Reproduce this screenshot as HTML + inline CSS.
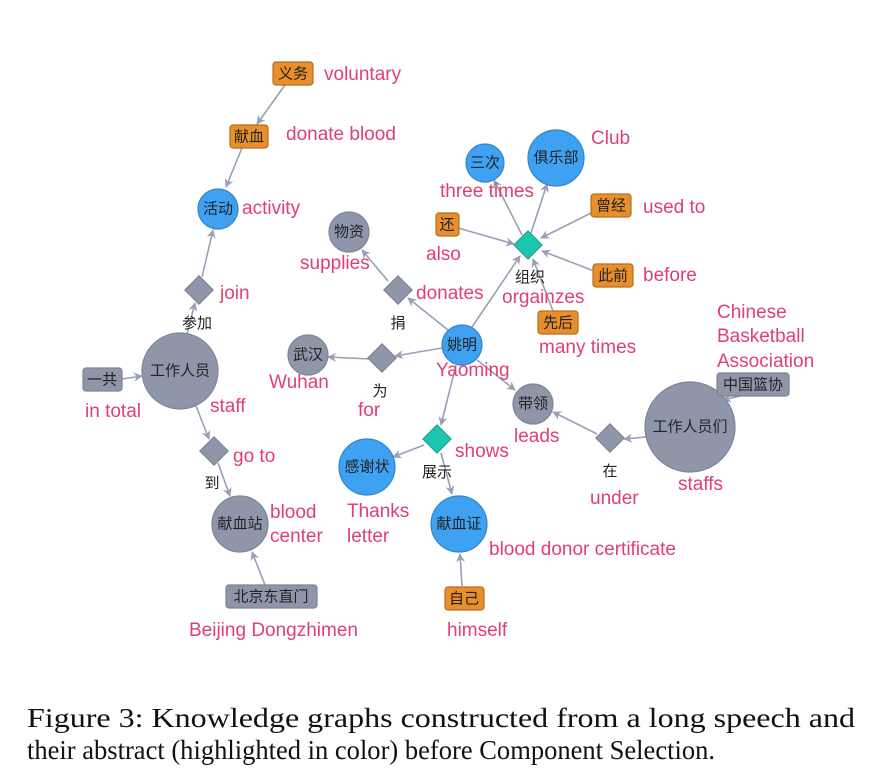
<!DOCTYPE html>
<html><head><meta charset="utf-8"><style>
html,body{margin:0;padding:0;background:#fff;}
svg{display:block;}
.en{font-family:"Liberation Sans",sans-serif;font-size:19px;fill:#e0406f;}
.zh{font-family:"Liberation Sans","Noto Sans CJK SC",sans-serif;font-size:15px;fill:#222;text-anchor:middle;dominant-baseline:central;}
.zl{font-family:"Liberation Sans","Noto Sans CJK SC",sans-serif;font-size:15px;fill:#222;text-anchor:middle;}
.e{stroke:#98a0b6;stroke-width:1.6;fill:none;marker-end:url(#a);}
.g{fill:#9096aa;stroke:#7d8398;stroke-width:1.2;}
.b{fill:#3fa1f2;stroke:#3586c8;stroke-width:1.2;}
.o{fill:#e88f2c;stroke:#b86d1e;stroke-width:1.2;}
.t{fill:#1cc6b0;stroke:#16a08f;stroke-width:1;}
.cap{font-family:"Liberation Serif",serif;font-size:27px;fill:#111;}
</style></head><body>
<svg width="879" height="783" viewBox="0 0 879 783" xmlns="http://www.w3.org/2000/svg">
<defs><marker id="a" viewBox="0 0 10 10" refX="9" refY="5" markerWidth="9" markerHeight="9" orient="auto" markerUnits="userSpaceOnUse"><path d="M0,0 L10,5 L0,10 L3,5 z" fill="#98a0b6"/></marker></defs>
<!-- edges -->
<line class="e" x1="285" y1="85" x2="257" y2="124"/>
<line class="e" x1="242" y1="148" x2="226" y2="187"/>
<line class="e" x1="202" y1="277" x2="213" y2="230"/>
<line class="e" x1="187" y1="334" x2="195" y2="303"/>
<line class="e" x1="122" y1="379" x2="142" y2="376"/>
<line class="e" x1="196" y1="406" x2="209" y2="439"/>
<line class="e" x1="218" y1="463" x2="230" y2="496"/>
<line class="e" x1="265" y1="585" x2="252" y2="552"/>
<line class="e" x1="388" y1="281" x2="362" y2="250"/>
<line class="e" x1="448" y1="330" x2="408" y2="298"/>
<line class="e" x1="370" y1="359" x2="328" y2="357"/>
<line class="e" x1="442" y1="348" x2="395" y2="356"/>
<line class="e" x1="472" y1="327" x2="520" y2="256"/>
<line class="e" x1="522" y1="235" x2="494" y2="180"/>
<line class="e" x1="531" y1="233" x2="547" y2="184"/>
<line class="e" x1="458" y1="228" x2="514" y2="244"/>
<line class="e" x1="593" y1="212" x2="541" y2="238"/>
<line class="e" x1="594" y1="271" x2="542" y2="251"/>
<line class="e" x1="553" y1="311" x2="533" y2="259"/>
<line class="e" x1="477" y1="360" x2="515" y2="390"/>
<line class="e" x1="597" y1="434" x2="553" y2="412"/>
<line class="e" x1="646" y1="437" x2="624" y2="439"/>
<line class="e" x1="740" y1="396" x2="723" y2="400"/>
<line class="e" x1="456" y1="365" x2="441" y2="425"/>
<line class="e" x1="424" y1="445" x2="393" y2="457"/>
<line class="e" x1="441" y1="453" x2="452" y2="494"/>
<line class="e" x1="462" y1="586" x2="460" y2="554"/>
<!-- nodes -->
<rect class="o" x="273" y="62" width="40" height="23" rx="3"/><text class="zh" x="293" y="74">义务</text>
<rect class="o" x="230" y="125" width="38" height="23" rx="3"/><text class="zh" x="249" y="137">献血</text>
<circle class="b" cx="218" cy="209" r="20"/><text class="zh" x="218" y="209">活动</text>
<rect class="g" x="189" y="280" width="20" height="20" transform="rotate(45 199 290)"/>
<circle class="g" cx="180" cy="371" r="38"/><text class="zh" x="180" y="371">工作人员</text>
<rect class="g" x="83" y="368" width="39" height="23" rx="3"/><text class="zh" x="102" y="380">一共</text>
<rect class="g" x="204" y="441" width="20" height="20" transform="rotate(45 214 451)"/>
<circle class="g" cx="240" cy="524" r="28"/><text class="zh" x="240" y="524">献血站</text>
<rect class="g" x="226" y="585" width="91" height="23" rx="3"/><text class="zh" x="271" y="597">北京东直门</text>
<circle class="g" cx="349" cy="232" r="20"/><text class="zh" x="349" y="232">物资</text>
<rect class="g" x="388" y="280" width="20" height="20" transform="rotate(45 398 290)"/>
<circle class="g" cx="308" cy="355" r="20"/><text class="zh" x="308" y="355">武汉</text>
<rect class="g" x="372" y="348" width="20" height="20" transform="rotate(45 382 358)"/>
<circle class="b" cx="462" cy="345" r="20"/><text class="zh" x="462" y="345">姚明</text>
<rect class="t" x="518" y="235" width="20" height="20" transform="rotate(45 528 245)"/>
<circle class="b" cx="485" cy="163" r="19"/><text class="zh" x="485" y="163">三次</text>
<circle class="b" cx="556" cy="158" r="28"/><text class="zh" x="556" y="158">俱乐部</text>
<rect class="o" x="436" y="213" width="23" height="23" rx="3"/><text class="zh" x="447" y="225">还</text>
<rect class="o" x="591" y="194" width="40" height="23" rx="3"/><text class="zh" x="611" y="206">曾经</text>
<rect class="o" x="593" y="264" width="40" height="23" rx="3"/><text class="zh" x="613" y="276">此前</text>
<rect class="o" x="538" y="311" width="40" height="23" rx="3"/><text class="zh" x="558" y="323">先后</text>
<circle class="g" cx="533" cy="404" r="20"/><text class="zh" x="533" y="404">带领</text>
<rect class="g" x="600" y="428" width="20" height="20" transform="rotate(45 610 438)"/>
<circle class="g" cx="690" cy="427" r="45"/><text class="zh" x="690" y="427">工作人员们</text>
<rect class="g" x="717" y="373" width="72" height="23" rx="3"/><text class="zh" x="753" y="385">中国篮协</text>
<rect class="t" x="427" y="429" width="20" height="20" transform="rotate(45 437 439)"/>
<circle class="b" cx="367" cy="467" r="28"/><text class="zh" x="367" y="467">感谢状</text>
<circle class="b" cx="459" cy="524" r="28"/><text class="zh" x="459" y="524">献血证</text>
<rect class="o" x="445" y="587" width="39" height="23" rx="3"/><text class="zh" x="464" y="599">自己</text>
<!-- chinese labels -->
<text class="zl" x="197" y="328">参加</text>
<text class="zl" x="212" y="488">到</text>
<text class="zl" x="398" y="328">捐</text>
<text class="zl" x="380" y="396">为</text>
<text class="zl" x="530" y="282">组织</text>
<text class="zl" x="610" y="476">在</text>
<text class="zl" x="437" y="477">展示</text>
<!-- english labels -->
<text class="en" x="324" y="80">voluntary</text>
<text class="en" x="286" y="140">donate blood</text>
<text class="en" x="242" y="214">activity</text>
<text class="en" x="220" y="299">join</text>
<text class="en" x="85" y="417">in total</text>
<text class="en" x="210" y="412">staff</text>
<text class="en" x="233" y="462">go to</text>
<text class="en" x="270" y="518">blood</text>
<text class="en" x="270" y="542">center</text>
<text class="en" x="189" y="636">Beijing Dongzhimen</text>
<text class="en" x="300" y="269">supplies</text>
<text class="en" x="416" y="299">donates</text>
<text class="en" x="269" y="388">Wuhan</text>
<text class="en" x="358" y="416">for</text>
<text class="en" x="436" y="376">Yaoming</text>
<text class="en" x="440" y="197">three times</text>
<text class="en" x="591" y="144">Club</text>
<text class="en" x="426" y="260">also</text>
<text class="en" x="643" y="213">used to</text>
<text class="en" x="643" y="281">before</text>
<text class="en" x="502" y="303">orgainzes</text>
<text class="en" x="539" y="353">many times</text>
<text class="en" x="717" y="318">Chinese</text>
<text class="en" x="717" y="342">Basketball</text>
<text class="en" x="717" y="367">Association</text>
<text class="en" x="514" y="442">leads</text>
<text class="en" x="455" y="457">shows</text>
<text class="en" x="590" y="504">under</text>
<text class="en" x="678" y="490">staffs</text>
<text class="en" x="347" y="517">Thanks</text>
<text class="en" x="347" y="542">letter</text>
<text class="en" x="489" y="555">blood donor certificate</text>
<text class="en" x="447" y="636">himself</text>
<!-- caption -->
<text class="cap" x="27" y="727" textLength="828" lengthAdjust="spacingAndGlyphs">Figure 3:  Knowledge graphs constructed from a long speech and</text>
<text class="cap" x="27" y="759" textLength="688" lengthAdjust="spacingAndGlyphs">their abstract (highlighted in color) before Component Selection.</text>
</svg>
</body></html>
